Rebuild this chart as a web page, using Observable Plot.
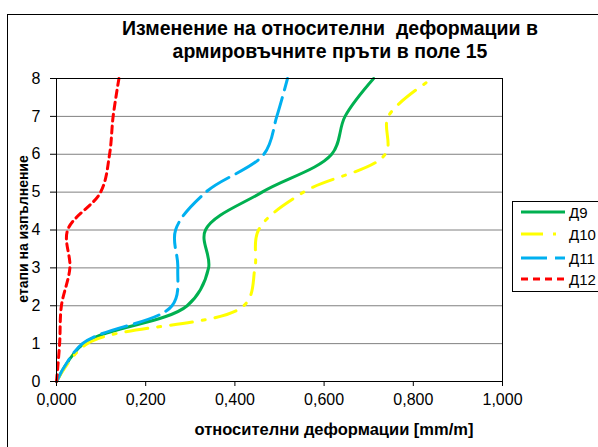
<!DOCTYPE html>
<html>
<head>
<meta charset="utf-8">
<script src="https://cdn.jsdelivr.net/npm/d3@7"></script>
<script src="https://cdn.jsdelivr.net/npm/@observablehq/plot@0.6"></script>
<style>
  body { margin: 0; background: #fff; }
  #chart { position: relative; width: 598px; height: 447px; overflow: hidden; background: #fff;
           font-family: Arial, "Liberation Sans", sans-serif; }
  #frame { position: absolute; left: 7px; top: 14px; width: 620px; height: 470px; border: 1px solid #000; }
  #title { position: absolute; left: 80px; width: 500px; top: 17px; text-align: center;
           font-weight: bold; font-size: 19.5px; line-height: 23px; white-space: pre; color: #000; }
  #plot { position: absolute; left: 0; top: 64px; }
  #xtitle { position: absolute; left: 134px; width: 400px; top: 420px; text-align: center;
            font-weight: bold; font-size: 16.5px; color: #000; }
  #ytitle { position: absolute; left: 23px; top: 229px; transform: translate(-50%, -50%) rotate(-90deg);
            white-space: nowrap; font-weight: bold; font-size: 14px; color: #000; }
  #legend { position: absolute; left: 512px; top: 201px; width: 100px; height: 89px; border: 1px solid #000; background: #fff; }
  .item { position: absolute; left: 8px; height: 18px; display: flex; align-items: center; font-size: 15px; }
  .item svg { margin-right: 4px; }
</style>
</head>
<body>
<div id="chart">
  <div id="frame"></div>
  <div id="title"></div>
  <div id="plot"></div>
  <div id="xtitle"></div>
  <div id="ytitle"></div>
  <div id="legend"></div>
</div>
<script>
const titleLines = ["Изменение на относителни  деформации в", "армировъчните пръти в поле 15"];
const xTitle = "относителни деформации [mm/m]";
const yTitle = "етапи на изпълнение";
const stages = [0, 1, 2, 3, 4, 5, 6, 7, 8];
const seriesNames = ["Д9", "Д10", "Д11", "Д12"];
const d9  = [0, 0.061, 0.293, 0.341, 0.334, 0.461, 0.617, 0.647, 0.711];
const d10 = [0, 0.069, 0.420, 0.445, 0.453, 0.554, 0.737, 0.744, 0.843];
const d11 = [0, 0.058, 0.259, 0.272, 0.267, 0.335, 0.465, 0.494, 0.518];
const d12 = [0, 0.007, 0.011, 0.030, 0.025, 0.099, 0.119, 0.127, 0.140];
const xTicks = [0, 0.2, 0.4, 0.6, 0.8, 1.0];
const yTicks = [0, 1, 2, 3, 4, 5, 6, 7, 8];

const colors = ["#00B050", "#FFFF00", "#00B0F0", "#FF0000"];
const dashes = [null, "22,10,3,10", "26,8", "7,5"];
const allSeries = [d9, d10, d11, d12];

const rows = [];
allSeries.forEach((vals, si) => stages.forEach((s, i) => rows.push({series: seriesNames[si], x: vals[i], y: s})));

document.getElementById("title").textContent = titleLines.join("\n");
document.getElementById("xtitle").textContent = xTitle;
document.getElementById("ytitle").textContent = yTitle;

const fmt = v => d3.format(".3f")(v).replace(".", ",");

const marks = [
  Plot.gridY(yTicks, {stroke: "#808080", strokeOpacity: 1, strokeWidth: 1}),
  ...seriesNames.map((name, si) => Plot.line(rows.filter(r => r.series === name), {
    x: "x", y: "y", stroke: colors[si], strokeWidth: 3,
    strokeDasharray: dashes[si] || undefined, curve: "catmull-rom"
  })),
  Plot.frame({stroke: "#000", strokeWidth: 1}),
  Plot.axisX(xTicks, {tickFormat: fmt, tickSize: 5, tickPadding: 7, fontSize: 16, label: null}),
  Plot.axisY(yTicks, {tickSize: 6, tickPadding: 10, fontSize: 16, label: null})
];

const chart = Plot.plot({
  width: 598, height: 383,
  marginLeft: 56, marginRight: 96, marginTop: 14, marginBottom: 66,
  style: {fontFamily: "Arial, 'Liberation Sans', sans-serif", color: "#000", background: "transparent"},
  x: {domain: [0, 1]},
  y: {domain: [0, 8]},
  marks
});
document.getElementById("plot").appendChild(chart);

const legend = document.getElementById("legend");
const legendTops = [1, 23, 47, 68];
seriesNames.forEach((name, si) => {
  const div = document.createElement("div");
  div.className = "item";
  div.style.top = legendTops[si] + "px";
  div.innerHTML = `<svg width="44" height="6"><line x1="0" y1="3" x2="44" y2="3" stroke="${colors[si]}" stroke-width="3" ${dashes[si] ? `stroke-dasharray="${dashes[si]}"` : ""}/></svg><span>${name}</span>`;
  legend.appendChild(div);
});
</script>
</body>
</html>
